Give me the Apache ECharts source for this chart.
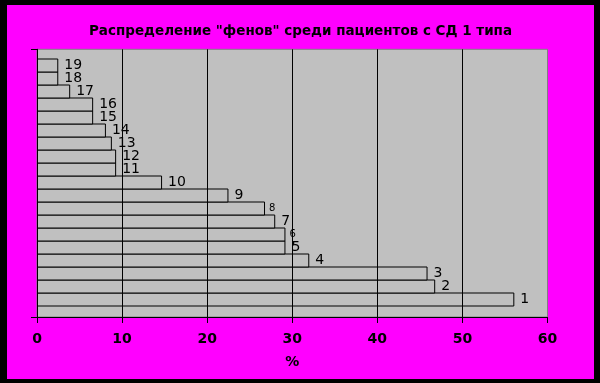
<!DOCTYPE html>
<html>
<head>
<meta charset="utf-8">
<script src="https://cdn.jsdelivr.net/npm/echarts@6/dist/echarts.min.js"></script>
<style>
html,body{margin:0;padding:0;background:#000;width:600px;height:383px;overflow:hidden;}
#chart{position:absolute;left:7px;top:5px;width:587px;height:374px;background:#ff00ff;}
</style>
</head>
<body>
<div id="chart"></div>
<script>
const titleText = 'Распределение "фенов" среди пациентов с СД 1 типа';
const categories = ['1','2','3','4','5','6','7','8','9','10','11','12','13','14','15','16','17','18','19'];
const values = [56.1, 46.8, 45.9, 32.0, 29.2, 29.2, 28.0, 26.8, 22.5, 14.7, 9.3, 9.3, 8.8, 8.1, 6.6, 6.6, 3.9, 2.5, 2.5];
const xMin = 0, xMax = 60, xStep = 10;
const axisName = '%';

const chart = echarts.init(document.getElementById('chart'), null, {renderer: 'canvas'});

const barData = values.map((v, i) => {
  const c = categories[i];
  const small = (c === '6' || c === '8');
  return {
    value: v,
    label: small ? {fontSize: 10, distance: 4} : undefined
  };
});

chart.setOption({
  animation: false,
  backgroundColor: '#ff00ff',
  title: {
    text: titleText,
    left: 'center',
    top: 14,
    textStyle: {fontFamily: 'DejaVu Sans', fontWeight: 'bold', fontSize: 13.5, color: '#000'}
  },
  grid: [
    {left: 30, right: 46.5, top: 54, height: 247, show: false},
    {left: 30, right: 46.5, top: 44.3, bottom: 62, show: true,
     backgroundColor: '#c0c0c0', borderColor: '#808080', borderWidth: 1}
  ],
  xAxis: [
    {gridIndex: 0, type: 'value', min: xMin, max: xMax, interval: xStep, show: false},
    {gridIndex: 1, type: 'value', min: xMin, max: xMax, interval: xStep, z: 3,
     name: axisName, nameLocation: 'middle', nameGap: 38,
     nameTextStyle: {fontFamily: 'DejaVu Sans', fontWeight: 'bold', fontSize: 14, color: '#000'},
     axisLine: {show: true, lineStyle: {color: '#000', width: 1}},
     axisTick: {show: true, length: 6, lineStyle: {color: '#000'}},
     axisLabel: {margin: 15, fontFamily: 'DejaVu Sans', fontWeight: 'bold', fontSize: 14, color: '#000'},
     splitLine: {show: true, lineStyle: {color: ['#000', '#000', '#000', '#000', '#000', '#000', '#808080'], width: 1}}
    }
  ],
  yAxis: [
    {gridIndex: 0, type: 'category', data: categories, show: false},
    {gridIndex: 1, type: 'value', min: 0, max: 1, interval: 1, z: 3,
     axisLine: {show: true, lineStyle: {color: '#000', width: 1}},
     axisTick: {show: true, length: 6, lineStyle: {color: '#000'}},
     axisLabel: {show: false},
     splitLine: {show: false}
    }
  ],
  series: [{
    type: 'bar',
    xAxisIndex: 0,
    yAxisIndex: 0,
    data: barData,
    barWidth: 14,
    barCategoryGap: '0%',
    itemStyle: {color: '#c0c0c0', borderColor: '#000', borderWidth: 1},
    label: {
      show: true,
      position: 'right',
      distance: 6,
      formatter: '{b}',
      fontFamily: 'DejaVu Sans',
      fontSize: 14,
      color: '#000'
    }
  }]
});
</script>
</body>
</html>
